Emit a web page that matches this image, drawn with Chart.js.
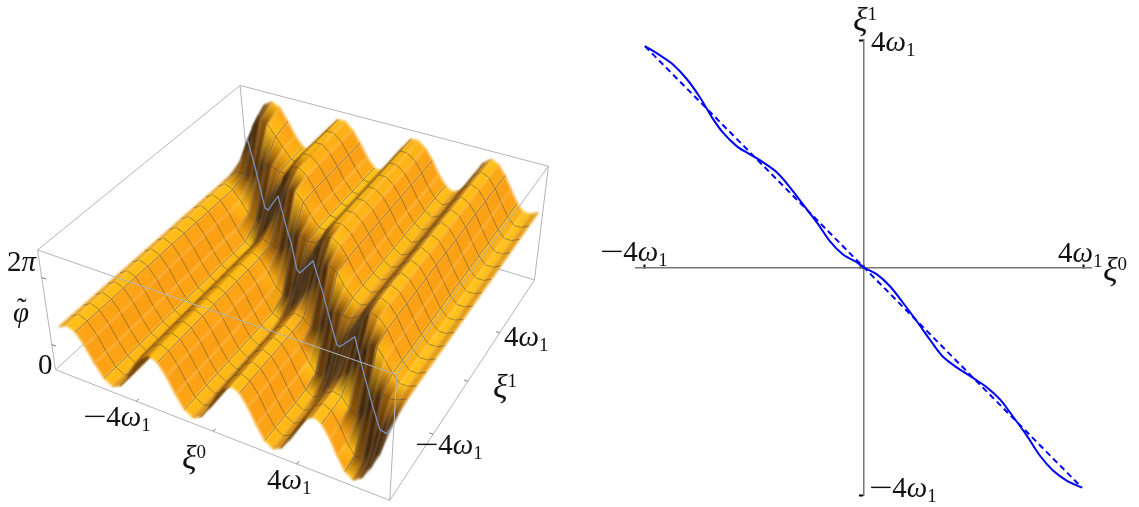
<!DOCTYPE html>
<html>
<head>
<meta charset="utf-8">
<title>Surface and kink curve</title>
<script src="https://cdn.jsdelivr.net/npm/chart.js@4"></script>
<style>
  html, body { margin: 0; padding: 0; background: #fff; }
  #page { position: relative; width: 1139px; height: 507px; overflow: hidden; }
  canvas { position: absolute; top: 0; }
  #surfaceChart { left: 0; }
  #planeChart { left: 570px; }
  .lbl { position: absolute; white-space: nowrap; color: #111; font: 29px/0 "Liberation Serif", serif; }
  .lbl i { font-style: italic; }
  .lbl .xi { font-size: 34px; }
  .lbl sub, .lbl sup { font-size: 19px; line-height: 0; font-style: normal; vertical-align: baseline; position: relative; }
  .lbl sub { top: 5px; }
  .lbl sup { top: -11px; }
  .lbl .minus { display: inline-block; transform: scaleX(1.45); transform-origin: left center; margin-right: 7px; }
  .lbl .hat { position: relative; }
  .lbl .tilde { position: absolute; left: 4px; top: 12px; font-style: normal; }
</style>
</head>
<body>
<div id="page">
  <canvas id="surfaceChart" width="570" height="507"></canvas>
  <canvas id="planeChart" width="569" height="507"></canvas>
</div>
<script>
// height of the surface in percent of the box, rows go front to back, columns along xi0
const z00 = [39,43,40,31,19,9,5,8,17,29,39,43,40,31,19,9,5,8,17,29,39,43,40,31,19,9,5,8,17,29,39,43,40,31,19,9,5,9,19,32,52];
const z01 = [39,43,40,31,19,9,5,8,17,29,39,43,40,31,19,9,5,8,17,29,39,43,40,31,19,9,5,8,17,29,39,43,40,31,19,11,10,20,36,49,56];
const z02 = [39,43,40,31,19,9,5,8,17,29,39,43,40,31,19,9,5,8,17,29,39,43,40,31,19,9,5,8,17,29,39,43,41,34,29,37,50,55,53,55,58];
const z03 = [39,43,40,31,19,9,5,8,17,29,39,43,40,31,19,9,5,8,17,29,39,43,40,31,19,9,5,8,17,29,40,46,53,66,77,78,70,61,55,55,58];
const z04 = [39,43,40,31,19,9,5,8,17,29,39,43,40,31,19,9,5,8,17,29,39,43,40,31,19,9,5,9,20,35,51,69,84,91,89,82,71,61,55,55,58];
const z05 = [39,43,40,31,19,9,5,8,17,29,39,43,40,31,19,9,5,8,17,29,39,43,40,31,20,12,13,26,42,54,64,77,88,93,90,82,71,61,55,55,58];
const z06 = [39,43,40,31,19,9,5,8,17,29,39,43,40,31,19,9,5,8,17,29,39,43,41,36,35,46,55,55,54,58,65,77,88,93,90,82,71,61,55,55,58];
const z07 = [39,43,40,31,19,9,5,8,17,29,39,43,40,31,19,9,5,8,17,30,41,50,61,74,80,76,66,59,55,58,65,77,88,93,90,82,71,61,55,55,58];
const z08 = [39,43,40,31,19,9,5,8,17,29,39,43,40,31,19,9,6,10,21,39,57,77,89,91,87,78,67,59,55,58,65,77,88,93,90,82,71,61,55,55,58];
const z09 = [39,43,40,31,19,9,5,8,17,29,39,43,40,31,20,14,17,31,47,58,69,83,92,92,87,78,67,59,55,58,65,77,88,93,90,82,71,61,55,55,58];
const z10 = [39,43,40,31,19,9,5,8,17,29,39,44,42,40,44,55,58,55,56,61,70,83,92,92,87,78,67,59,55,58,65,77,88,93,90,82,71,61,55,55,58];
const z11 = [39,43,40,31,19,9,5,8,17,30,42,54,69,81,82,75,65,57,56,61,70,83,92,92,87,78,67,59,55,58,65,77,88,93,90,82,71,61,55,55,58];
const z12 = [39,43,40,31,19,9,6,11,24,43,62,79,90,91,86,76,65,57,56,61,70,83,92,92,87,78,67,59,55,58,65,77,88,93,90,82,71,61,55,55,58];
const z13 = [39,43,40,32,22,17,24,38,50,58,70,83,92,92,86,76,65,57,56,61,70,83,92,92,87,78,67,59,55,58,65,77,88,93,90,82,71,61,55,55,58];
const z14 = [39,44,44,44,52,59,58,56,56,60,70,83,92,92,86,76,65,57,56,61,70,83,92,92,87,78,67,59,55,58,65,77,88,93,90,82,71,61,55,55,58];
const z15 = [44,62,78,85,83,74,65,57,56,60,70,83,92,92,86,76,65,57,56,61,70,83,92,92,87,78,67,59,55,58,65,77,88,93,90,82,71,61,55,55,58];
const z16 = [56,76,88,92,89,78,66,58,56,60,70,83,92,92,86,76,65,57,56,61,70,83,92,92,87,78,67,59,55,58,65,77,88,93,90,82,71,61,55,55,58];
const surfaceRows = [z00,z01,z02,z03,z04,z05,z06,z07,z08,z09,z10,z11,z12,z13,z14,z15,z16];
const meshColumns = [2,5,7,10,12,15,17,20,22,25,27,30,32,35,37];

// light curve drawn on the surface, read in the chart's own units
const ridgeLineX = [247,255,265,268,278,288,291,297,300,313,323,330,337,340,355,363,373,380,387,393];
const ridgeLineY = [138,167,208,210,196,233,242,270,273,261,293,320,345,347,337,370,407,430,434,425];

// box tick positions, fractions of each box edge
const xi0Ticks = [0.242, 0.472, 0.722];
const xi1Ticks = [0.30, 0.54, 0.76];
const phiTicks = [0.21, 0.77];

// right panel, solid and dashed curve
const curveXi0 = [-4,-3.726,-3.489,-3.233,-2.995,-2.776,-2.575,-2.32,-2.082,-1.845,-1.589,-1.352,-1.114,-0.858,-0.621,-0.384,-0.128,0,0.237,0.475,0.712,0.968,1.205,1.443,1.699,1.991,2.247,2.484,2.721,2.977,3.215,3.452,3.708,3.982];
const curveXi1 = [3.894,3.73,3.57,3.31,2.99,2.64,2.37,2.13,1.99,1.85,1.67,1.41,1.11,0.79,0.46,0.23,0.09,0,-0.12,-0.33,-0.62,-0.95,-1.27,-1.57,-1.76,-1.94,-2.11,-2.32,-2.62,-2.96,-3.31,-3.57,-3.75,-3.87];
const dashedXi0 = [-4, 3.98];
const dashedXi1 = [3.89, -3.87];
const planeTicks = [-4, 0, 4];

// box corners on screen: front left, front right, back right, back left
const boxLowX = [55, 390, 535, 250];
const boxLowY = [370, 501, 280, 193];
const boxTopX = [37, 397, 549, 240];
const boxTopY = [250, 375, 166, 85];
const surfaceStart = 0.03;
const surfaceEnd = 0.985;

const shadeLevels = [-14, -8, -3, 0, 1.5, 3.5, 7, 13, 24];
const shadeColors = [[250,152,18],[252,165,22],[255,188,22],[255,194,24],[245,172,20],[205,132,14],[145,88,10],[88,50,8],[50,28,5]];

function bilinear(c, s, t) {
  return (1 - t) * ((1 - s) * c[0] + s * c[1]) + t * ((1 - s) * c[3] + s * c[2]);
}

function project(s, t, z) {
  return {
    x: (1 - z) * bilinear(boxLowX, s, t) + z * bilinear(boxTopX, s, t),
    y: (1 - z) * bilinear(boxLowY, s, t) + z * bilinear(boxTopY, s, t)
  };
}

function node(row, column) {
  const s = surfaceStart + (surfaceEnd - surfaceStart) * column / 40;
  return project(s, row / 16, surfaceRows[row][column] / 100);
}

function shadeColor(value) {
  let i = 0;
  while (i < shadeLevels.length - 2 && value > shadeLevels[i + 1]) {
    i += 1;
  }
  const f = Math.min(1, Math.max(0, (value - shadeLevels[i]) / (shadeLevels[i + 1] - shadeLevels[i])));
  const a = shadeColors[i];
  const b = shadeColors[i + 1];
  return `rgb(${Math.round(a[0] + (b[0] - a[0]) * f)},${Math.round(a[1] + (b[1] - a[1]) * f)},${Math.round(a[2] + (b[2] - a[2]) * f)})`;
}

function slopeAlongS(row, column) {
  const c = Math.min(39, Math.max(0, column));
  return surfaceRows[row][c + 1] - surfaceRows[row][c];
}

function stripShade(row, column) {
  const prev = surfaceRows[Math.max(row - 1, 0)];
  const next = surfaceRows[Math.min(row + 1, 16)];
  const alongS = 0.25 * slopeAlongS(row, column - 1) + 0.5 * slopeAlongS(row, column) + 0.25 * slopeAlongS(row, column + 1);
  const alongT = ((next[column] + next[column + 1]) - (prev[column] + prev[column + 1])) / 4;
  return alongS + 0.4 * alongT;
}

function lineSet(points, color, width) {
  return { data: points, showLine: true, fill: false, borderColor: color, borderWidth: width, pointRadius: 0, tension: 0 };
}

function edge(a, b) {
  return [{ x: a[0], y: a[1] }, { x: b[0], y: b[1] }];
}

function lowCorner(i) { return [boxLowX[i], boxLowY[i]]; }
function topCorner(i) { return [boxTopX[i], boxTopY[i]]; }

// softens the seams between strips, datasets are drawn from the last index down
const stripBlur = {
  id: 'stripBlur',
  beforeDatasetsDraw: function (chart) {
    chart.ctx.filter = 'none';
  },
  afterDatasetDraw: function (chart, args) {
    const next = chart.data.datasets[args.index - 1];
    chart.ctx.filter = next && next.column !== undefined ? 'blur(0.9px)' : 'none';
  },
  afterDatasetsDraw: function (chart) {
    chart.ctx.filter = 'none';
  }
};

function buildSurfaceChart() {
  const sets = [];
  const strips = [];
  const boxColor = '#b4b4b4';

  // edges behind the surface
  [[lowCorner(0), lowCorner(3)], [lowCorner(3), lowCorner(2)], [lowCorner(3), topCorner(3)], [topCorner(0), topCorner(3)], [topCorner(3), topCorner(2)]].forEach(function (e) {
    sets.push(lineSet(edge(e[0], e[1]), boxColor, 1));
  });

  for (let i = 0; i < 40; i += 1) {
    const polygon = [];
    for (let k = 0; k <= 16; k += 1) { polygon.push(node(k, i)); }
    for (let k = 16; k >= 0; k -= 1) { polygon.push(node(k, i + 1)); }
    polygon.push(node(0, i));
    const strip = { data: polygon, showLine: true, fill: 'shape', backgroundColor: '#fa9a10', borderColor: '#fa9a10', borderWidth: 1, pointRadius: 0, tension: 0, column: i };
    strips.push(strip);
    sets.push(strip);

    const mesh = [];
    for (let k = 1; k < 16; k += 1) {
      mesh.push(node(k, i), node(k, i + 1), { x: NaN, y: NaN });
    }
    if (meshColumns.includes(i)) {
      for (let k = 0; k <= 16; k += 1) { mesh.push(node(k, i)); }
    }
    sets.push(lineSet(mesh, 'rgba(70,70,60,0.62)', 0.8));
  }

  sets.push(lineSet(ridgeLineX.map(function (x, i) { return { x: x, y: ridgeLineY[i] }; }), '#7b90b8', 1.3));

  // edges in front of it
  [[lowCorner(0), topCorner(0)], [lowCorner(0), lowCorner(1)], [lowCorner(1), lowCorner(2)], [lowCorner(1), topCorner(1)], [lowCorner(2), topCorner(2)], [topCorner(0), topCorner(1)], [topCorner(1), topCorner(2)]].forEach(function (e) {
    sets.push(lineSet(edge(e[0], e[1]), boxColor, 1));
  });
  xi0Ticks.forEach(function (s) { sets.push(lineSet([project(s, 0, 0), project(s, 0.014, 0)], '#777', 1)); });
  xi1Ticks.forEach(function (t) { sets.push(lineSet([project(1, t, 0), project(0.988, t, 0)], '#777', 1)); });
  phiTicks.forEach(function (z) { sets.push(lineSet([project(0, 0, z), project(0.012, 0, z)], '#777', 1)); });

  // first dataset ends up on top in Chart.js, so paint order is reversed here
  const chart = new Chart(document.getElementById('surfaceChart'), {
    type: 'scatter',
    data: { datasets: sets.slice().reverse() },
    plugins: [stripBlur],
    options: {
      responsive: false,
      animation: false,
      events: [],
      layout: { padding: 0 },
      plugins: { legend: { display: false }, tooltip: { enabled: false } },
      scales: {
        x: { type: 'linear', min: 0, max: 570, display: false },
        y: { type: 'linear', min: 0, max: 507, reverse: true, display: false }
      }
    }
  });

  const sx = chart.scales.x;
  const sy = chart.scales.y;
  strips.forEach(function (strip) {
    const i = strip.column;
    const points = [];
    for (let k = 0; k <= 16; k += 1) {
      const a = node(k, i);
      const b = node(k, i + 1);
      points.push({ x: sx.getPixelForValue((a.x + b.x) / 2), y: sy.getPixelForValue((a.y + b.y) / 2) });
    }
    const p0 = points[0];
    const p1 = points[16];
    const dx = p1.x - p0.x;
    const dy = p1.y - p0.y;
    const len = dx * dx + dy * dy;
    const gradient = chart.ctx.createLinearGradient(p0.x, p0.y, p1.x, p1.y);
    let last = 0;
    points.forEach(function (p, k) {
      const offset = Math.max(last, Math.min(1, ((p.x - p0.x) * dx + (p.y - p0.y) * dy) / len));
      last = offset;
      gradient.addColorStop(offset, shadeColor(stripShade(k, i)));
    });
    strip.backgroundColor = gradient;
    strip.borderColor = gradient;
  });
  chart.update('none');
}

function buildPlaneChart() {
  const tickAxis = function (axis) {
    axis.ticks = planeTicks.map(function (value) { return { value: value }; });
  };
  new Chart(document.getElementById('planeChart'), {
    type: 'scatter',
    data: {
      datasets: [
        { data: curveXi0.map(function (x, i) { return { x: x, y: curveXi1[i] }; }), showLine: true, borderColor: '#0000ff', borderWidth: 2, pointRadius: 0, tension: 0.3 },
        { data: dashedXi0.map(function (x, i) { return { x: x, y: dashedXi1[i] }; }), showLine: true, borderColor: '#0000ff', borderWidth: 2, borderDash: [6, 4], pointRadius: 0 }
      ]
    },
    options: {
      responsive: false,
      animation: false,
      events: [],
      layout: { padding: { left: 66, right: 48, top: 40, bottom: 12 } },
      plugins: { legend: { display: false }, tooltip: { enabled: false } },
      scales: {
        x: {
          type: 'linear', min: -4.164, max: 4.146, position: { y: 0 }, afterBuildTicks: tickAxis,
          ticks: { display: false },
          grid: { drawOnChartArea: false, drawTicks: true, tickLength: -4, tickWidth: 2, tickColor: '#000' },
          border: { color: '#777', width: 1.5 }
        },
        y: {
          type: 'linear', min: -4, max: 4, position: { x: 0 }, afterBuildTicks: tickAxis,
          ticks: { display: false },
          grid: { drawOnChartArea: false, drawTicks: true, tickLength: 4, tickWidth: 2, tickColor: '#000' },
          border: { color: '#777', width: 1.5 }
        }
      }
    }
  });
}

// text labels: left edge, baseline, content
const omegaLabel = '4<i>ω</i><sub>1</sub>';
const minusOmegaLabel = '<span class="minus">−</span>' + omegaLabel;
const xiZero = '<i class="xi">ξ</i><sup>0</sup>';
const xiOne = '<i class="xi">ξ</i><sup>1</sup>';
const labelPlaces = [
  [7, 270, '2<i>π</i>'],
  [13, 321, '<span class="hat"><i>φ</i><span class="tilde">˜</span></span>'],
  [38, 373, '0'],
  [83, 425, minusOmegaLabel],
  [182, 467, xiZero],
  [267, 488, omegaLabel],
  [415, 453, minusOmegaLabel],
  [493, 396, xiOne],
  [504, 345, omegaLabel],
  [853, 29, xiOne],
  [871, 50, omegaLabel],
  [600, 260, minusOmegaLabel],
  [1058, 261, omegaLabel],
  [1103, 279, xiZero],
  [869, 496, minusOmegaLabel]
];

function addLabels() {
  const page = document.getElementById('page');
  labelPlaces.forEach(function (place) {
    const el = document.createElement('div');
    el.className = 'lbl';
    el.style.left = place[0] + 'px';
    el.style.top = (place[1] - 9.5) + 'px';
    el.innerHTML = place[2];
    page.appendChild(el);
  });
}

buildSurfaceChart();
buildPlaneChart();
addLabels();
</script>
</body>
</html>
